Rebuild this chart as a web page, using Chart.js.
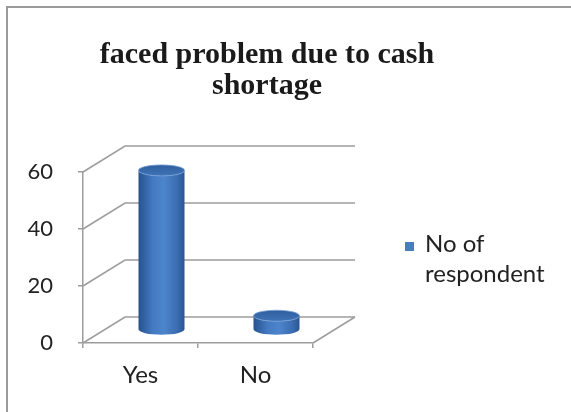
<!DOCTYPE html>
<html>
<head>
<meta charset="utf-8">
<script src="https://cdn.jsdelivr.net/npm/chart.js@4"></script>
<style>
  body { margin: 0; background: #fff; }
  #wrap { position: relative; width: 571px; height: 412px; overflow: hidden; background: #fff; }
  #frame { position: absolute; left: 6px; top: 6px; width: 700px; height: 500px;
           border-left: 2px solid #9a9a9a; border-top: 2px solid #9a9a9a; }
  #chart { position: absolute; left: 0; top: 0; }
  #title { position: absolute; left: 0; top: 37px; width: 534px; text-align: center;
           font: bold 30px "Liberation Serif", "Times New Roman", serif; line-height: 31px; color: #1a1a1a; }
  #legend { position: absolute; left: 405px; top: 228px; }
  #legend .box { position: absolute; left: 0; top: 14px; width: 9px; height: 9px; }
  #legend .text { position: absolute; left: 20px; top: 0; width: 160px;
                  font: 24px Lato, sans-serif; line-height: 30px; color: #222; }
</style>
</head>
<body>
<div id="wrap">
  <div id="frame"></div>
  <canvas id="chart" width="571" height="412"></canvas>
  <div id="title">faced problem due to cash<br>shortage</div>
  <div id="legend"></div>
</div>
<script>
const categories = ["Yes", "No"];
const respondents = [56, 5];
const seriesLabel = "No of respondent";
const yTicks = [0, 20, 40, 60];

const BAR_COLOR = "#4a7ebb";
const GRID_COLOR = "#9d9d9d";
// depth of the 3d box (back wall offset)
const DX = 42;
const DY = -26;

const box3d = {
  id: "box3d",
  beforeDatasetsDraw(chart) {
    const { ctx, chartArea } = chart;
    const { left, right, bottom } = chartArea;
    const y = chart.scales.y;
    ctx.save();
    ctx.strokeStyle = GRID_COLOR;
    ctx.lineWidth = 1.5;
    y.ticks.forEach((t) => {
      const py = y.getPixelForValue(t.value);
      ctx.beginPath();
      ctx.moveTo(left, py);
      ctx.lineTo(left + DX, py + DY);
      ctx.lineTo(right + DX, py + DY);
      ctx.stroke();
    });
    // right edge of the floor
    ctx.beginPath();
    ctx.moveTo(right, bottom);
    ctx.lineTo(right + DX, bottom + DY);
    ctx.stroke();
    ctx.restore();
  },
  afterDatasetsDraw(chart) {
    const { ctx } = chart;
    const meta = chart.getDatasetMeta(0);
    ctx.save();
    meta.data.forEach((bar) => {
      const { x, y, base, width } = bar.getProps(["x", "y", "base", "width"], true);
      const cx = x + DX / 2;
      const topY = y + DY / 2;
      const baseY = base + DY / 2;
      const rx = width / 2;
      const ry = 5.5;

      const grad = ctx.createLinearGradient(cx - rx, 0, cx + rx, 0);
      grad.addColorStop(0, "#27528f");
      grad.addColorStop(0.3, "#4279c0");
      grad.addColorStop(0.55, "#4d85cc");
      grad.addColorStop(0.85, "#3a6cb0");
      grad.addColorStop(1, "#2a5594");

      ctx.beginPath();
      ctx.moveTo(cx - rx, topY);
      ctx.lineTo(cx - rx, baseY);
      ctx.ellipse(cx, baseY, rx, ry, 0, Math.PI, 0, true);
      ctx.lineTo(cx + rx, topY);
      ctx.ellipse(cx, topY, rx, ry, 0, 0, Math.PI, false);
      ctx.closePath();
      ctx.fillStyle = grad;
      ctx.fill();

      // top cap
      const capGrad = ctx.createLinearGradient(0, topY - ry, 0, topY + ry);
      capGrad.addColorStop(0, "#2f5e9e");
      capGrad.addColorStop(1, "#3f74b8");
      ctx.beginPath();
      ctx.ellipse(cx, topY, rx, ry, 0, 0, Math.PI * 2);
      ctx.fillStyle = capGrad;
      ctx.fill();
      ctx.strokeStyle = "rgba(120,160,215,0.8)";
      ctx.lineWidth = 1;
      ctx.stroke();
    });
    ctx.restore();
  },
};

const chart = new Chart(document.getElementById("chart"), {
  type: "bar",
  data: {
    labels: categories,
    datasets: [
      {
        label: seriesLabel,
        data: respondents,
        backgroundColor: "rgba(0,0,0,0)",
        borderWidth: 0,
        barPercentage: 0.4,
        categoryPercentage: 1,
      },
    ],
  },
  options: {
    responsive: false,
    animation: false,
    events: [],
    layout: { padding: { left: 0, right: 258, top: 172, bottom: 0 } },
    plugins: {
      legend: { display: false },
      title: { display: false },
      tooltip: { enabled: false },
    },
    scales: {
      x: {
        afterFit: (s) => { s.height = 69; },
        grid: { drawOnChartArea: false, drawTicks: true, tickLength: 5, color: GRID_COLOR, lineWidth: 1.5 },
        border: { display: true, color: GRID_COLOR, width: 1.5 },
        ticks: { padding: 13, color: "#222", font: { family: "Lato", size: 24 } },
      },
      y: {
        min: 0,
        max: yTicks[yTicks.length - 1],
        afterFit: (s) => { s.width = 83; },
        afterBuildTicks: (s) => { s.ticks = yTicks.map((v) => ({ value: v })); },
        grid: { drawOnChartArea: false, drawTicks: true, tickLength: 5, color: GRID_COLOR, lineWidth: 1.5 },
        border: { display: true, color: GRID_COLOR, width: 1.5 },
        ticks: { padding: 25, color: "#222", font: { family: "Lato", size: 22 } },
      },
    },
  },
  plugins: [box3d],
});

// legend beside the chart
const legendEl = document.getElementById("legend");
chart.data.datasets.forEach((ds) => {
  const sw = document.createElement("span");
  sw.className = "box";
  sw.style.background = BAR_COLOR;
  const txt = document.createElement("span");
  txt.className = "text";
  txt.textContent = ds.label;
  legendEl.appendChild(sw);
  legendEl.appendChild(txt);
});
</script>
</body>
</html>
